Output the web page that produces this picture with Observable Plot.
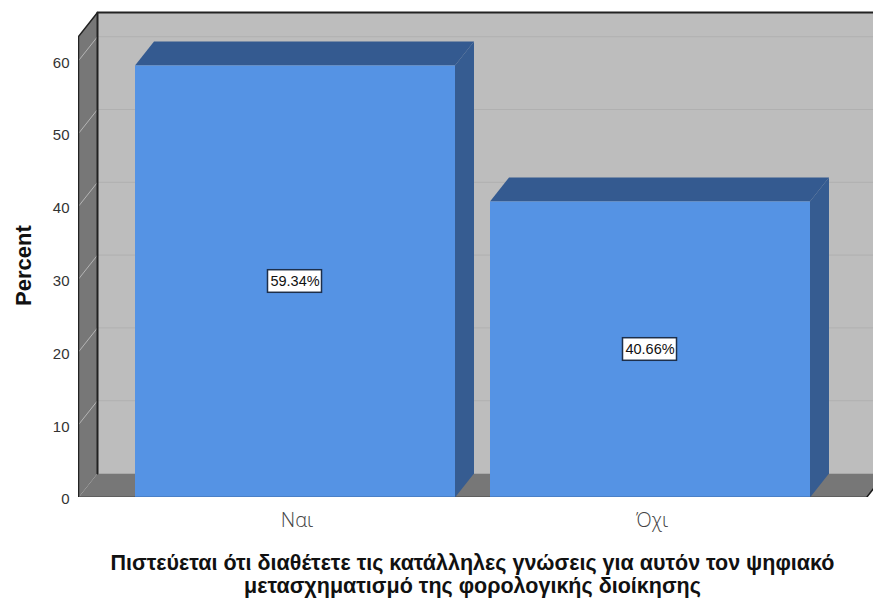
<!DOCTYPE html>
<html><head><meta charset="utf-8">
<script src="https://cdn.jsdelivr.net/npm/d3@7"></script>
<script src="https://cdn.jsdelivr.net/npm/@observablehq/plot@0.6"></script>
<style>html,body{margin:0;padding:0;background:#fff}svg{display:block}</style>
</head><body><div id="chart"></div>
<script>
const categories = ["Ναι", "Όχι"];
const percents = [59.34, 40.66];
const barLabels = ["59.34%", "40.66%"];
const yTicks = [0, 10, 20, 30, 40, 50, 60];
const xTitle = "Πιστεύεται ότι διαθέτετε τις κατάλληλες γνώσεις για αυτόν τον ψηφιακό\nμετασχηματισμό της φορολογικής διοίκησης";
const yTitle = "Percent";

const pxX = 355, pxY = 7.28;
const depthX = 19 / pxX, depthY = 24 / pxY;
const half = 160 / pxX;
const cx = 294.5;
const xMin = (78 - cx) / pxX, xMax = (873 - cx) / pxX;
const wallTop = 461 / pxY;
const floorEnd = (866 - cx) / pxX;

const poly = (pts, fill, extra = {}) => Plot.line(pts.concat([pts[0]]), {x: "0", y: "1", fill, stroke: "none", clip: "frame", ...extra});
const edge = (pts, stroke, strokeWidth) => Plot.line(pts, {x: "0", y: "1", stroke, strokeWidth, clip: "frame"});

const marks = [
  // back wall
  poly([[xMin + depthX, depthY], [xMax + 1, depthY], [xMax + 1, wallTop + depthY], [xMin + depthX, wallTop + depthY]], "#bdbdbd"),
  // left wall and floor
  poly([[xMin, 0], [xMin + depthX, depthY], [xMin + depthX, wallTop + depthY], [xMin, wallTop]], "#777777"),
  poly([[xMin, 0], [floorEnd, 0], [floorEnd + depthX, depthY], [xMin + depthX, depthY]], "#777777"),
  // grid lines on back wall and left wall
  ...yTicks.slice(1).map(t => edge([[xMin + depthX, t + depthY], [xMax, t + depthY]], "#b0b0b0", 1)),
  ...yTicks.slice(1).map(t => edge([[xMin, t], [xMin + depthX, t + depthY]], "#b5b5b5", 1)),
  // outlines
  edge([[xMin + depthX, depthY], [xMin + depthX, wallTop + depthY], [xMax, wallTop + depthY]], "#222222", 2),
  edge([[xMin, 0], [xMin, wallTop], [xMin + depthX, wallTop + depthY]], "#222222", 1.5),
  edge([[xMin, 0], [floorEnd, 0], [floorEnd + depthX, depthY]], "#1a1a1a", 1.5),
  // bars
  ...percents.flatMap((v, i) => [
    poly([[i + half, 0], [i + half + depthX, depthY], [i + half + depthX, v + depthY], [i + half, v]], "#365c91"),
    poly([[i - half, v], [i + half, v], [i + half + depthX, v + depthY], [i - half + depthX, v + depthY]], "#345a90"),
    poly([[i - half, 0], [i + half, 0], [i + half, v], [i - half, v]], "#5593e4"),
  ]),
  edge([[-half, 0], [half, 0]], "#2f4a70", 1.5),
  edge([[1 - half, 0], [1 + half, 0]], "#2f4a70", 1.5),
  // value labels
  Plot.rect(percents, {
    x1: (d, i) => i - 27 / pxX, x2: (d, i) => i + 27 / pxX,
    y1: d => d / 2 - 1.55, y2: d => d / 2 + 1.55,
    fill: "white", stroke: "#1d2f4a", strokeWidth: 1.5
  }),
  Plot.text(percents, {
    x: (d, i) => i, y: d => d / 2, text: (d, i) => barLabels[i],
    fontSize: 14.5, fill: "#111", fontFamily: "Liberation Sans"
  }),
  // axes
  Plot.axisY({ticks: yTicks, tickSize: 0, tickPadding: 9, dy: 2, label: null, fontSize: 15, color: "#333", fontFamily: "Liberation Sans"}),
  Plot.axisX({ticks: [0, 1], tickFormat: i => categories[i], tickSize: 0, tickPadding: 15, dx: 2, label: null, fontSize: 20, fontWeight: 300, color: "#444", fontFamily: "Open Sans"}),
  // titles
  Plot.text([yTitle], {frameAnchor: "left", dx: -55, dy: 57, rotate: -90, fontSize: 22, fontWeight: "bold", fill: "#111", fontFamily: "Liberation Sans"}),
  Plot.text([xTitle], {frameAnchor: "bottom", x: () => (472 - cx) / pxX, dy: 95, fontSize: 21.5, fontWeight: "bold", fill: "#111", lineHeight: 1.05, fontFamily: "Liberation Sans"})
];

const chart = Plot.plot({
  width: 873, height: 598,
  marginLeft: 78, marginRight: 0, marginTop: 0, marginBottom: 101,
  style: {background: "white", overflow: "visible"},
  x: {type: "linear", domain: [xMin, xMax], range: [78, 873]},
  y: {domain: [0, 497 / pxY], range: [497, 0]},
  marks
});
document.getElementById("chart").append(chart);
</script></body></html>
